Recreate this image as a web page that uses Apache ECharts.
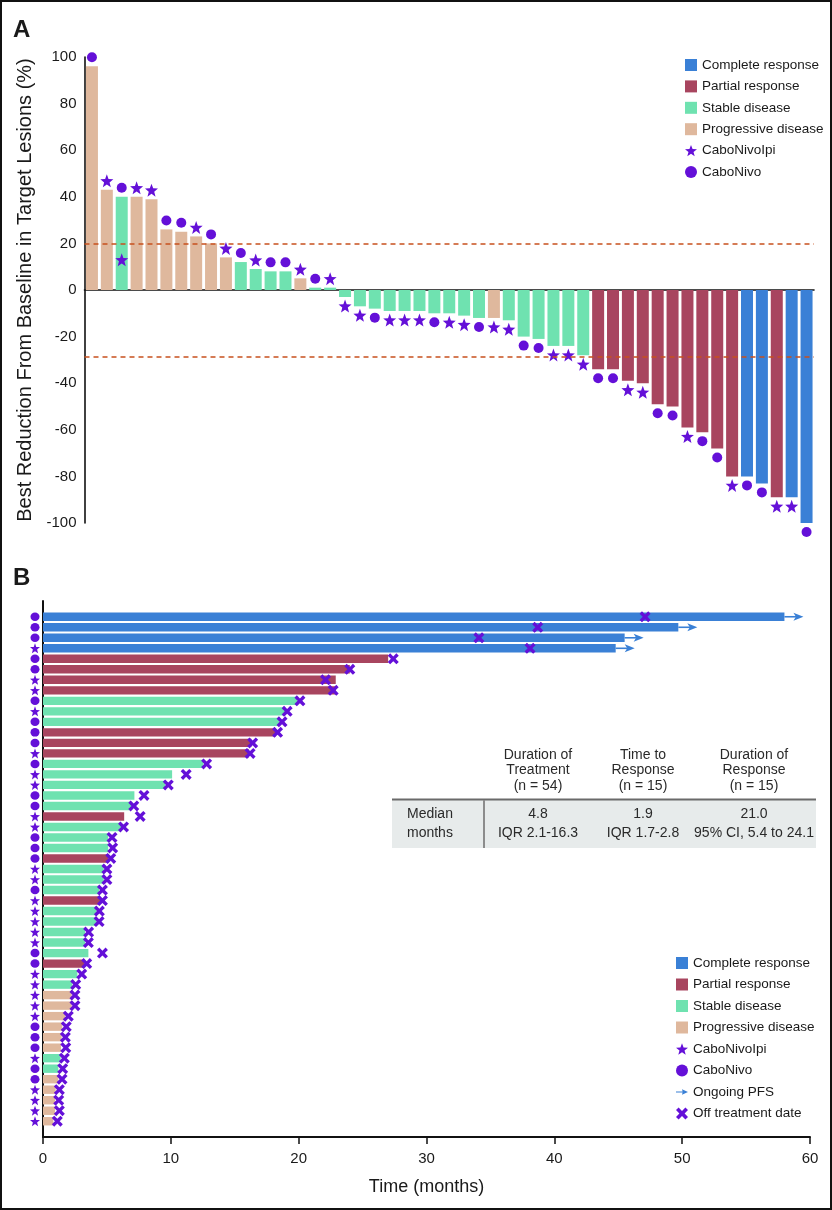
<!DOCTYPE html>
<html><head><meta charset="utf-8">
<script src="https://cdn.jsdelivr.net/npm/echarts@6/dist/echarts.min.js"></script>
<style>
html,body{margin:0;padding:0;background:#fff}
#wrap{position:relative;width:832px;height:1210px}
#chart{position:absolute;left:0;top:0;width:832px;height:1210px}
#frame{position:absolute;left:0;top:0;width:832px;height:1210px;box-sizing:border-box;border:2px solid #111;pointer-events:none}
</style>
</head><body><div id="wrap"><div id="chart"></div><div id="frame"></div></div>
<script>
// ---------- Panel A data (waterfall, one bar per patient) ----------
const reductionA = [96, 43, 40, 40, 39, 26, 25, 23, 20, 14, 12, 9, 8, 8, 5, 1, 1, -3, -7, -8, -9, -9, -9, -10, -10, -11, -12, -12, -13, -20, -21, -24, -24, -28, -34, -34, -39, -40, -49, -50, -59, -61, -68, -80, -80, -83, -89, -89, -100];
const responseA = ['PD','PD','SD','PD','PD','PD','PD','PD','PD','PD','SD','SD','SD','SD','PD','SD','SD',
  'SD','SD','SD','SD','SD','SD','SD','SD','SD','SD','PD','SD','SD','SD','SD','SD','SD',
  'PR','PR','PR','PR','PR','PR','PR','PR','PR','PR','CR','CR','PR','CR','CR'];
const treatmentA = ['C','S','C','S','S','C','C','S','C','S','C','S','C','C','S','C','S','S','S','C','S','S','S','C','S','S','C','S','S','C','C','S','S','S','C','C','S','S','C','C','S','C','C','S','C','C','S','S','C'];
const extraStarA = [{ patient: 3, value: 13 }];
const thresholdsA = [20, -28.5];
const ticksA = { min: -100, max: 100, step: 20 };

// ---------- Panel B data (swimmer plot) ----------
const durationB = [58.0, 49.7, 45.5, 44.8, 27.0, 24.0, 22.9, 22.9, 19.9, 18.95, 18.5, 18.2, 16.3, 16.1, 12.55, 10.1, 9.55, 7.15, 6.9, 6.35, 6.15, 5.1, 5.1, 5.1, 4.75, 4.75, 4.39, 4.46, 4.2, 4.2, 3.29, 3.29, 3.55, 3.24, 2.69, 2.30, 2.25, 2.25, 1.72, 1.51, 1.46, 1.41, 1.38, 1.2, 1.2, 0.99, 0.94, 0.94, 0.81];
const offTreatmentB = [47.1, 38.7, 34.1, 38.1, 27.4, 24.0, 22.1, 22.7, 20.1, 19.1, 18.7, 18.35, 16.4, 16.2, 12.8, 11.2, 9.8, 7.9, 7.1, 7.6, 6.3, 5.4, 5.45, 5.3, 5.0, 5.0, 4.65, 4.65, 4.41, 4.39, 3.57, 3.55, 4.65, 3.42, 3.03, 2.56, 2.5, 2.5, 1.98, 1.82, 1.75, 1.78, 1.67, 1.54, 1.49, 1.28, 1.23, 1.28, 1.12];
const responseB = ['CR','CR','CR','CR','PR','PR','PR','PR','SD','SD','SD','PR','PR','PR','SD','SD','SD','SD','SD','PR','SD','SD','SD','PR','SD','SD','SD','PR','SD','SD','SD','SD','SD','PR','SD','SD','PD','PD','PD','PD','PD','PD','SD','SD','PD','PD','PD','PD','PD'];
const treatmentB = ['C','C','C','S','C','C','S','S','C','S','C','C','C','S','C','S','S','C','C','S','S','C','C','C','S','S','C','S','S','S','S','S','C','C','S','S','S','S','S','C','C','C','S','C','C','S','S','S','S'];
const ongoingRowsB = [1, 2, 3, 4];
const ticksB = { min: 0, max: 60, step: 10 };

// ---------- Table ----------
const tableHeaders = [['Duration of', 'Treatment', '(n = 54)'], ['Time to', 'Response', '(n = 15)'], ['Duration of', 'Response', '(n = 15)']];
const tableRowLabels = ['Median', 'months'];
const tableMedians = ['4.8', '1.9', '21.0'];
const tableRanges = ['IQR 2.1-16.3', 'IQR 1.7-2.8', '95% CI, 5.4 to 24.1'];

// ---------- Styles ----------
const responseOrder = ['CR', 'PR', 'SD', 'PD'];
const responseNames = { CR: 'Complete response', PR: 'Partial response', SD: 'Stable disease', PD: 'Progressive disease' };
const responseColors = { CR: '#3a80d6', PR: '#a8455f', SD: '#6fe2b0', PD: '#dfb89d' };
const treatNames = { S: 'CaboNivoIpi', C: 'CaboNivo' };
const purple = '#6410d8';
const ink = '#1a1a1a';
const FONT = '"Liberation Sans", Arial, Helvetica, sans-serif';
const STAR = 'path://M50,0 L62.3,33 L97.6,34.5 L70,56.5 L79.4,90.5 L50,71 L20.6,90.5 L30,56.5 L2.4,34.5 L37.7,33 Z';
const XMARK = 'path://M0,2.6 L2.6,0 L6,3.4 L9.4,0 L12,2.6 L8.6,6 L12,9.4 L9.4,12 L6,8.6 L2.6,12 L0,9.4 L3.4,6 Z';
const ARROW = 'path://M0,4.2 L11,4.2 L10,0.5 L20,5 L10,9.5 L11,5.8 L0,5.8 Z';

const chart = echarts.init(document.getElementById('chart'), null, { renderer: 'canvas' });

const categoriesA = reductionA.map((_, i) => 'P' + (i + 1));
const categoriesB = [''].concat(durationB.map((_, i) => 'R' + (i + 1)), ['']);

const series = [];
// Panel A bars
responseOrder.forEach(k => {
  const s = {
    name: responseNames[k], type: 'bar', xAxisIndex: 0, yAxisIndex: 0, stack: 'A', barWidth: 12,
    itemStyle: { color: responseColors[k] },
    data: reductionA.map((v, i) => responseA[i] === k ? v : '-')
  };
  if (k === 'CR') {
    s.markLine = {
      silent: true, symbol: 'none', label: { show: false },
      lineStyle: { color: '#c8501e', type: [5, 4], width: 1.6 },
      data: thresholdsA.map(t => ({ yAxis: t })), z: 6
    };
  }
  series.push(s);
});
// Panel A markers
['S', 'C'].forEach(t => {
  const data = [];
  reductionA.forEach((v, i) => {
    if (treatmentA[i] === t) data.push({ value: [i, v], symbolOffset: [0, v >= 0 ? -9 : 9] });
  });
  if (t === 'S') extraStarA.forEach(e => data.push({ value: [e.patient - 1, e.value] }));
  series.push({
    name: treatNames[t], type: 'scatter', xAxisIndex: 0, yAxisIndex: 0,
    symbol: t === 'S' ? STAR : 'circle', symbolSize: t === 'S' ? 13 : 10,
    itemStyle: { color: purple, opacity: 1 }, z: 5, clip: false, data
  });
});
// Panel B bars
responseOrder.forEach(k => {
  series.push({
    name: responseNames[k], type: 'bar', xAxisIndex: 1, yAxisIndex: 1, stack: 'B', barWidth: 8.4,
    itemStyle: { color: responseColors[k] },
    data: ['-'].concat(durationB.map((v, i) => responseB[i] === k ? v : '-'), ['-'])
  });
});
// Panel B left treatment markers
['S', 'C'].forEach(t => {
  const data = [];
  treatmentB.forEach((tt, i) => { if (tt === t) data.push([0, i + 1]); });
  series.push({
    name: treatNames[t], type: 'scatter', xAxisIndex: 1, yAxisIndex: 1,
    symbol: t === 'S' ? STAR : 'circle', symbolSize: t === 'S' ? 10 : [9, 8.5], symbolOffset: [-8, 0],
    itemStyle: { color: purple, opacity: 1 }, z: 5, clip: false, data
  });
});
// Ongoing PFS arrows
series.push({
  name: 'Ongoing PFS', type: 'custom', xAxisIndex: 1, yAxisIndex: 1, clip: false, z: 4,
  itemStyle: { color: '#3a80d6' },
  data: ongoingRowsB.map(r => [durationB[r - 1], r]),
  renderItem: (params, api) => {
    const p = api.coord([api.value(0), api.value(1)]);
    const x = p[0], y = p[1];
    return {
      type: 'group', children: [
        { type: 'line', shape: { x1: x, y1: y, x2: x + 12, y2: y }, style: { stroke: '#3a80d6', lineWidth: 1.6 } },
        { type: 'polygon', shape: { points: [[x + 9, y - 4], [x + 19, y], [x + 9, y + 4], [x + 11.5, y]] }, style: { fill: '#3a80d6' } }
      ]
    };
  }
});
// Off treatment markers
series.push({
  name: 'Off treatment date', type: 'scatter', xAxisIndex: 1, yAxisIndex: 1,
  symbol: XMARK, symbolSize: 11, itemStyle: { color: purple, opacity: 1 }, z: 6, clip: false,
  data: offTreatmentB.map((v, i) => [v, i + 1])
});

// Table graphics
const graphics = [
  { type: 'text', left: 13, top: 18, style: { text: 'A', font: 'bold 24px ' + FONT, fill: ink } },
  { type: 'text', left: 13, top: 566, style: { text: 'B', font: 'bold 24px ' + FONT, fill: ink } },
  { type: 'rect', shape: { x: 392, y: 799, width: 424, height: 49 }, style: { fill: '#e7ebeb' }, z: 1 },
  { type: 'line', shape: { x1: 392, y1: 799.5, x2: 816, y2: 799.5 }, style: { stroke: '#6a6a6a', lineWidth: 2 }, z: 2 },
  { type: 'line', shape: { x1: 484, y1: 800, x2: 484, y2: 848 }, style: { stroke: '#8c8c8c', lineWidth: 2 }, z: 2 }
];
const colX = [538, 643, 754];
tableHeaders.forEach((lines, c) => lines.forEach((t, r) => {
  graphics.push({ type: 'text', x: colX[c], y: 755 + r * 15.5, z: 3,
    style: { text: t, font: '14px ' + FONT, fill: '#2a2a2a', textAlign: 'center', textVerticalAlign: 'middle' } });
}));
tableRowLabels.forEach((t, r) => graphics.push({ type: 'text', x: 407, y: 814 + r * 19, z: 3,
  style: { text: t, font: '14px ' + FONT, fill: '#2a2a2a', textAlign: 'left', textVerticalAlign: 'middle' } }));
tableMedians.forEach((t, c) => graphics.push({ type: 'text', x: colX[c], y: 814, z: 3,
  style: { text: t, font: '14px ' + FONT, fill: '#2a2a2a', textAlign: 'center', textVerticalAlign: 'middle' } }));
tableRanges.forEach((t, c) => graphics.push({ type: 'text', x: colX[c], y: 833, z: 3,
  style: { text: t, font: '14px ' + FONT, fill: '#2a2a2a', textAlign: 'center', textVerticalAlign: 'middle' } }));

const legendA = responseOrder.map(k => ({ name: responseNames[k], icon: 'rect' }))
  .concat([{ name: 'CaboNivoIpi', icon: STAR }, { name: 'CaboNivo', icon: 'circle' }]);
const legendB = legendA.concat([{ name: 'Ongoing PFS', icon: ARROW }, { name: 'Off treatment date', icon: XMARK }]);

const option = {
  animation: false,
  textStyle: { fontFamily: FONT },
  graphic: graphics,
  legend: [
    { orient: 'vertical', left: 680, top: 53, itemWidth: 12, itemHeight: 12, itemGap: 7.4, selectedMode: false,
      textStyle: { fontSize: 13.5, color: ink, lineHeight: 14, fontFamily: FONT }, data: legendA },
    { orient: 'vertical', left: 671, top: 951, itemWidth: 12, itemHeight: 12, itemGap: 7.5, selectedMode: false,
      textStyle: { fontSize: 13.5, color: ink, lineHeight: 14, fontFamily: FONT }, data: legendB }
  ],
  grid: [
    { left: 84.5, right: 18, top: 57, height: 466 },
    { left: 43, right: 22, top: 601, height: 536 }
  ],
  xAxis: [
    { gridIndex: 0, type: 'category', data: categoriesA, boundaryGap: true,
      axisLine: { onZero: true, lineStyle: { color: '#111', width: 1.6 } }, axisTick: { show: false }, axisLabel: { show: false } },
    { gridIndex: 1, type: 'value', min: ticksB.min, max: ticksB.max, interval: ticksB.step,
      axisLine: { show: true, onZero: false, lineStyle: { color: '#111', width: 2 } },
      axisTick: { show: true, length: 7, lineStyle: { color: '#111', width: 1.5 } },
      axisLabel: { fontSize: 15, color: ink, margin: 14, fontFamily: FONT }, splitLine: { show: false },
      name: 'Time (months)', nameLocation: 'middle', nameGap: 41,
      nameTextStyle: { fontSize: 18, color: ink, fontFamily: FONT } }
  ],
  yAxis: [
    { gridIndex: 0, type: 'value', min: ticksA.min, max: ticksA.max, interval: ticksA.step,
      axisLine: { show: true, onZero: false, lineStyle: { color: '#111', width: 1.6 } }, axisTick: { show: false },
      axisLabel: { fontSize: 15, color: ink, margin: 8, fontFamily: FONT }, splitLine: { show: false },
      name: 'Best Reduction From Baseline in Target Lesions (%)', nameLocation: 'middle', nameGap: 47,
      nameTextStyle: { fontSize: 20, color: ink, fontFamily: FONT } },
    { gridIndex: 1, type: 'category', data: categoriesB, inverse: true, boundaryGap: true,
      axisLine: { show: true, onZero: false, lineStyle: { color: '#111', width: 2 } }, axisTick: { show: false }, axisLabel: { show: false } }
  ],
  series
};
chart.setOption(option);
</script></body></html>
